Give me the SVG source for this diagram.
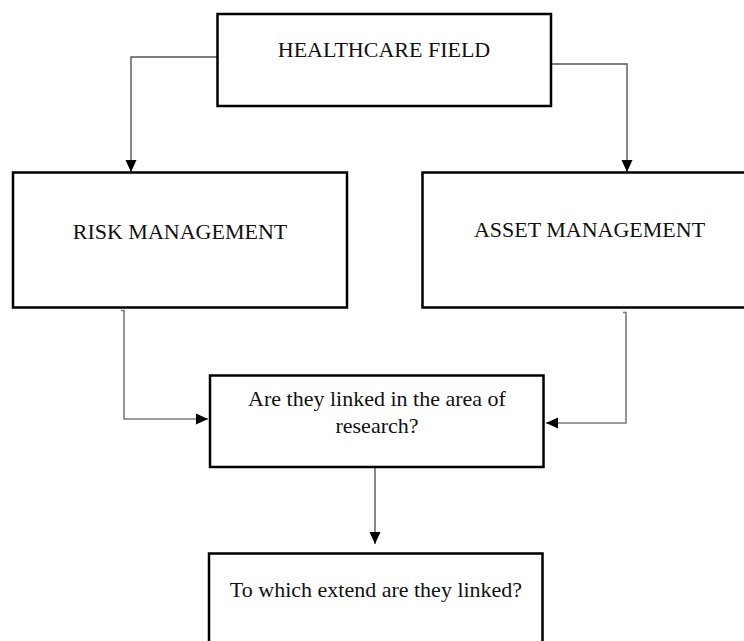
<svg xmlns="http://www.w3.org/2000/svg" width="744" height="641" viewBox="0 0 744 641">
  <style>
    .box { fill: #ffffff; stroke: #000000; stroke-width: 2.5; }
    .lbl { font-family: "Liberation Serif", "Times New Roman", serif; font-size: 22px; fill: #111111; text-anchor: middle; }
    .conn { fill: none; stroke: #555555; stroke-width: 1.4; }
    .conn2 { fill: none; stroke: #7a7a7a; stroke-width: 1.6; }
  </style>
  <defs>
    <marker id="arrow" viewBox="0 0 12 12" refX="12" refY="6" markerWidth="12" markerHeight="12" markerUnits="userSpaceOnUse" orient="auto">
      <path d="M0,0.5 L12,6 L0,11.5 Z" fill="#000000"/>
    </marker>
  </defs>
  <rect width="744" height="641" fill="#ffffff"/>

  <g id="connectors">
    <path class="conn" d="M217,57 H131 V172" marker-end="url(#arrow)"/>
    <path class="conn" d="M551,64 H627 V172" marker-end="url(#arrow)"/>
    <path class="conn2" d="M121,310.5 H124 V419 H208" marker-end="url(#arrow)"/>
    <path class="conn2" d="M623,312.5 H626 V423 H546" marker-end="url(#arrow)"/>
    <path class="conn" d="M375,468 V544" marker-end="url(#arrow)"/>
  </g>

  <g id="healthcare-field">
    <rect class="box" x="217.5" y="14" width="333.5" height="92"/>
    <text class="lbl" x="384" y="57">HEALTHCARE FIELD</text>
  </g>

  <g id="risk-management">
    <rect class="box" x="13" y="172.5" width="334" height="135"/>
    <text class="lbl" x="180" y="239">RISK MANAGEMENT</text>
  </g>

  <g id="asset-management">
    <rect class="box" x="422.5" y="172.5" width="334" height="135"/>
    <text class="lbl" x="589.5" y="237">ASSET MANAGEMENT</text>
  </g>

  <g id="linked-question">
    <rect class="box" x="210" y="375.5" width="333.5" height="91.5"/>
    <text class="lbl" x="377" y="406">Are they linked in the area of</text>
    <text class="lbl" x="377" y="433">research?</text>
  </g>

  <g id="extent-question">
    <rect class="box" x="209" y="553.5" width="333.5" height="100"/>
    <text class="lbl" x="376" y="597">To which extend are they linked?</text>
  </g>
</svg>
